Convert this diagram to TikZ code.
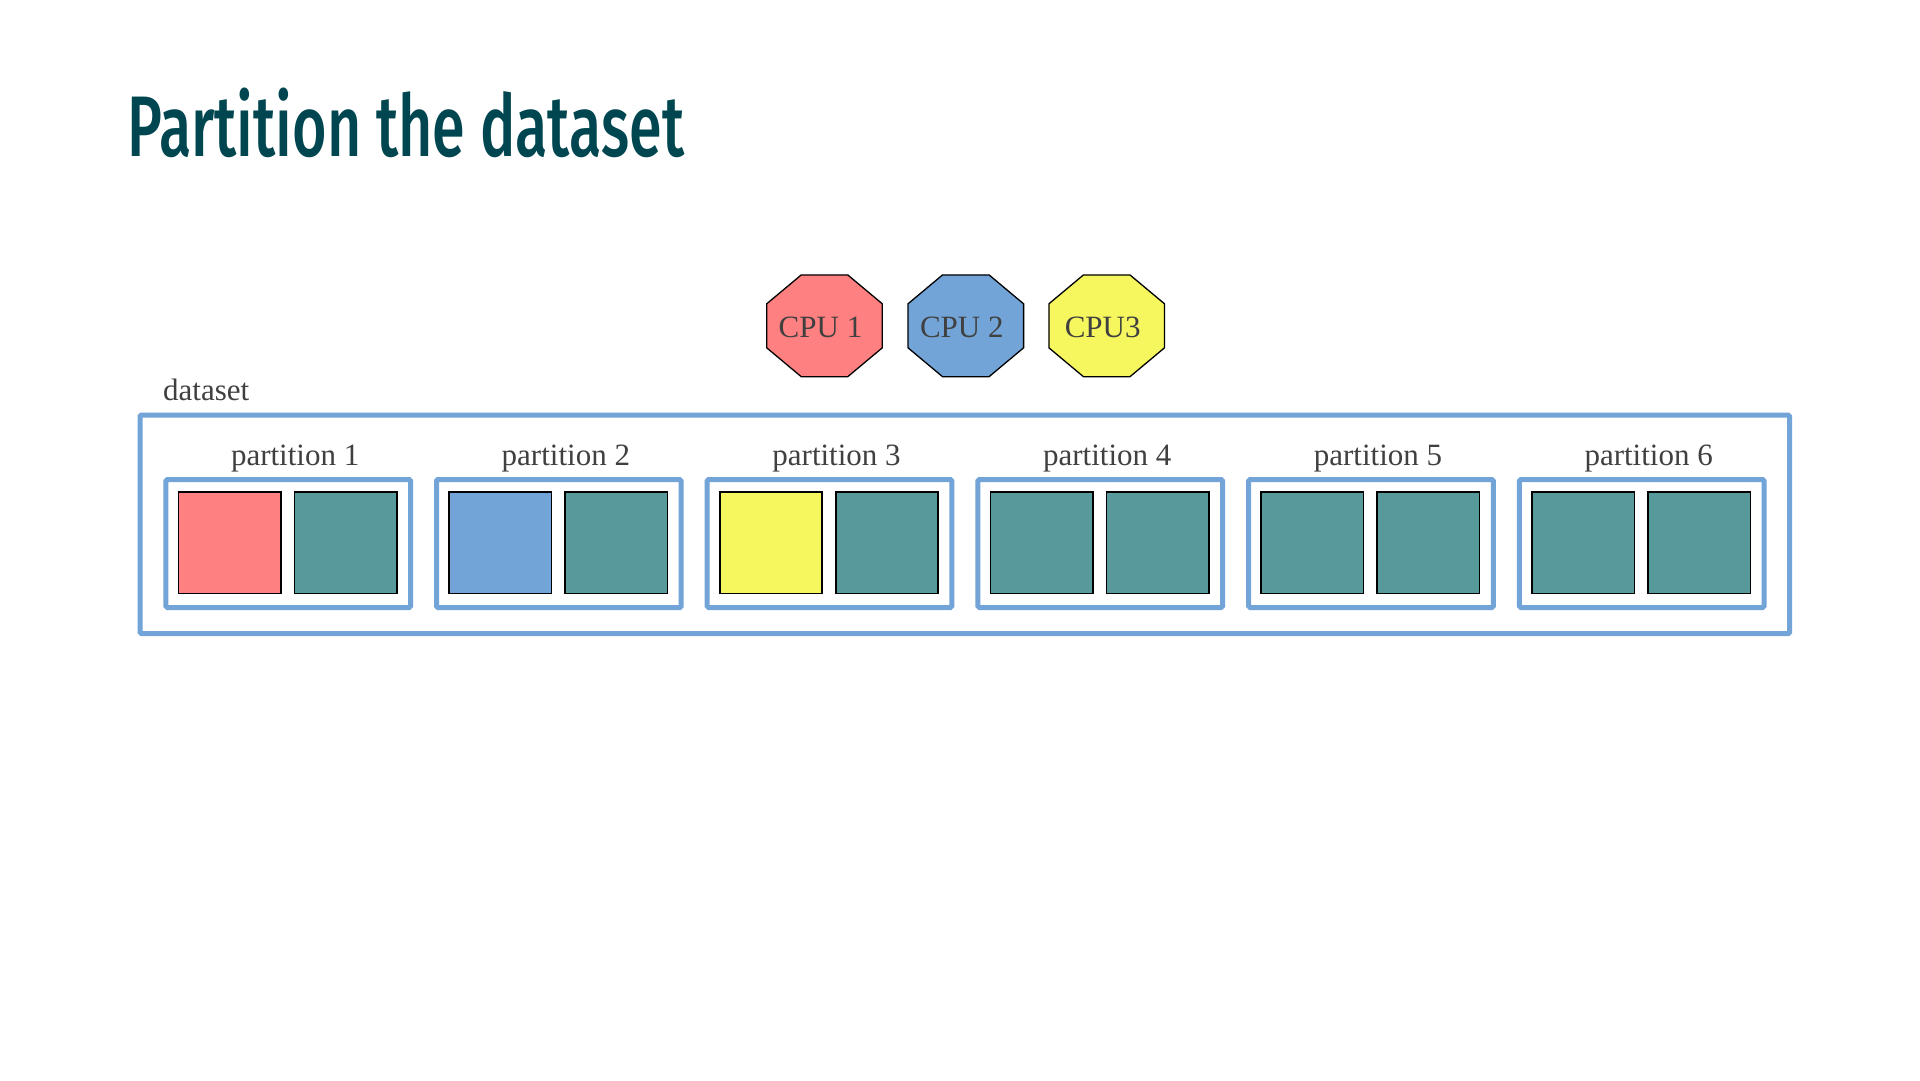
\documentclass[tikz,border=0pt]{standalone}
\usepackage{fontspec}
\usepackage{graphicx}
\setmainfont{Liberation Serif}
\newfontfamily\titlefont{Fira Sans Medium}
\definecolor{titlecol}{HTML}{004650}
\definecolor{txtcol}{HTML}{404040}
\definecolor{boxblue}{HTML}{72A4D8}
\definecolor{cpured}{HTML}{FF8080}
\definecolor{cpublue}{HTML}{72A4D8}
\definecolor{cpuyellow}{HTML}{F6F65E}
\definecolor{tealc}{HTML}{589A9B}
\tikzset{
  txt/.style={inner sep=0pt, text=txtcol, font=\fontsize{31}{36}\selectfont},
  outerbox/.style={draw=boxblue, line width=5pt, inner sep=0pt, outer sep=0pt, rounded corners=1.5pt},
  pbox/.style={draw=boxblue, line width=5pt, inner sep=0pt, outer sep=0pt, rounded corners=1.5pt,
    minimum width=244.7pt, minimum height=128pt},
  sq/.style={draw=black, line width=1.5pt, inner sep=0pt, outer sep=0pt,
    minimum width=102.4pt, minimum height=101.3pt},
  cpu/.style={draw=black, line width=1.3pt, line join=miter},
}
\begin{document}
\begin{tikzpicture}[x=1pt,y=-1pt]
\useasboundingbox[fill=white] (0,0) rectangle (1920,1080);

% title
\node[anchor=base west, inner sep=0pt, text=titlecol] (title) at (127,156)
  {\resizebox{557pt}{\height}{\titlefont\fontsize{86}{90}\selectfont Partition the dataset}};

% CPUs
\foreach \n/\x/\c/\t in {1/824.5/cpured/CPU 1, 2/965.8/cpublue/CPU 2, 3/1106.7/cpuyellow/CPU3}{
  \draw[cpu, fill=\c, shift={(\x,325.8)}]
    (-23.3,-50.85) -- (23.3,-50.85) -- (57.8,-22) -- (57.8,22) -- (23.3,50.85)
    -- (-23.3,50.85) -- (-57.8,22) -- (-57.8,-22) -- cycle;
  \node[txt, anchor=base] (cpu\n) at (\x-4,337.3) {\t};
}

% dataset
\node[txt, anchor=base west] (dslabel) at (163,400) {dataset};
\node[outerbox, minimum width=1649.7pt, minimum height=218.7pt] (dataset) at (964.85,524.35) {};

% partitions
\foreach \i/\cA in {0/cpured,1/cpublue,2/cpuyellow,3/tealc,4/tealc,5/tealc}{
  \pgfmathsetmacro\cx{288.15+270.7*\i}
  \pgfmathtruncatemacro\n{\i+1}
  \node[pbox] (p\n) at (\cx,543.5) {};
  \node[sq, fill=\cA] (p\n a) at (\cx-58.6,542.65) {};
  \node[sq, fill=tealc] (p\n b) at (\cx+57.4,542.65) {};
  \node[txt, anchor=base] (l\n) at (\cx+7,465) {partition \n};
}
\end{tikzpicture}
\end{document}
